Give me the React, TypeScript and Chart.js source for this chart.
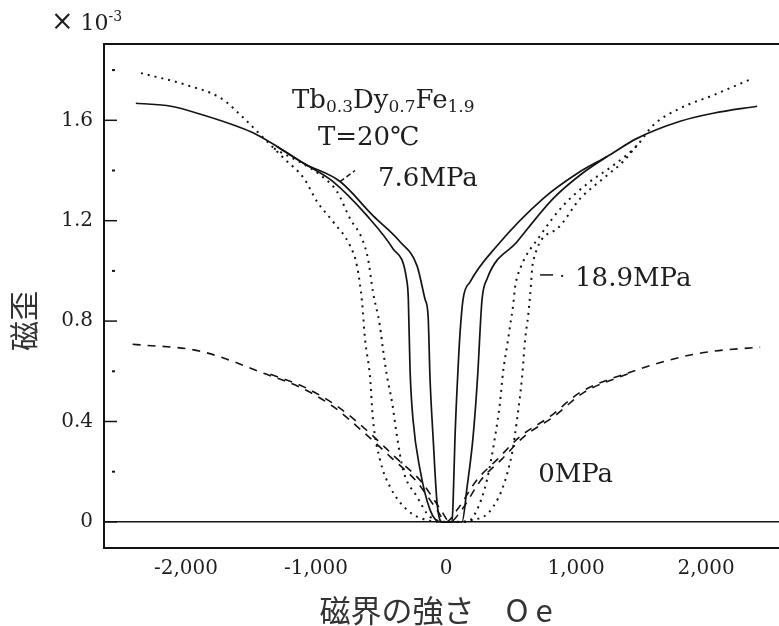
import React, { useEffect, useRef } from 'react';
import { Chart, registerables } from 'chart.js';

Chart.register(...registerables);

// ---- axis ticks ----
const xTickValues = [-2000, -1000, 0, 1000, 2000];
const yTickValues = [0, 0.2, 0.4, 0.6, 0.8, 1.0, 1.2, 1.4, 1.6, 1.8];
const yLabeledValues = [0, 0.4, 0.8, 1.2, 1.6];

// ---- 7.6 MPa (solid), two sweep branches ----
const field76A = [-2385, -2115, -1862, -1608, -1477, -1300, -1092, -869, -608, -408, -300, -290, -277, -254, -200, -123, -46, 46, 54, 69, 92, 108, 131, 185, 392, 746, 1008, 1238, 1469, 1800, 2054, 2392];
const strain76A = [1.668, 1.656, 1.62, 1.576, 1.548, 1.496, 1.428, 1.356, 1.22, 1.088, 0.956, 0.888, 0.608, 0.408, 0.208, 0.048, 0.0, 0.0, 0.076, 0.34, 0.608, 0.756, 0.888, 0.956, 1.10, 1.288, 1.388, 1.456, 1.528, 1.596, 1.628, 1.656];
const field76B = [-1300, -1092, -815, -562, -354, -223, -162, -138, -123, -100, -69, -31, 123, 162, 208, 246, 262, 277, 315, 546, 823, 1046, 1238];
const strain76B = [1.496, 1.428, 1.356, 1.22, 1.116, 1.02, 0.888, 0.82, 0.568, 0.34, 0.076, 0.0, 0.0, 0.14, 0.34, 0.608, 0.768, 0.888, 0.968, 1.116, 1.288, 1.388, 1.456];

// ---- 18.9 MPa (dotted), two sweep branches ----
const field189A = [-2346, -1992, -1731, -1554, -1423, -1323, -1246, -1092, -992, -869, -738, -685, -646, -623, -585, -562, -508, -431, -300, -200, -46, 162, 238, 315, 377, 415, 438, 469, 492, 515, 531, 569, 723, 900, 1108, 1285, 1469, 1592, 1800, 2054, 2362];
const strain189A = [1.788, 1.74, 1.688, 1.608, 1.54, 1.488, 1.448, 1.368, 1.276, 1.196, 1.10, 1.02, 0.876, 0.728, 0.58, 0.408, 0.248, 0.14, 0.048, 0.016, 0.0, 0.0, 0.048, 0.168, 0.34, 0.476, 0.596, 0.70, 0.78, 0.86, 0.936, 1.008, 1.14, 1.26, 1.356, 1.42, 1.50, 1.58, 1.648, 1.70, 1.768];
const field189B = [-1323, -962, -838, -738, -646, -600, -562, -508, -485, -454, -415, -377, -331, -223, -123, 31, 285, 362, 438, 508, 546, 585, 608, 631, 646, 669, 854, 1031, 1208, 1362, 1492];
const strain189B = [1.488, 1.38, 1.316, 1.208, 1.128, 1.048, 0.916, 0.78, 0.688, 0.58, 0.476, 0.34, 0.208, 0.10, 0.02, 0.0, 0.02, 0.06, 0.14, 0.276, 0.408, 0.58, 0.728, 0.82, 0.90, 1.036, 1.168, 1.288, 1.368, 1.436, 1.516];

// ---- 0 MPa (dashed), two sweep branches ----
const field0A = [-2410, -1890, -1380, -1120, -870, -640, -430, -225, -70, 0, 85, 238, 392, 569, 800, 1031, 1415, 1800, 2054, 2415];
const strain0A = [0.708, 0.68, 0.588, 0.536, 0.46, 0.36, 0.26, 0.16, 0.048, 0.0, 0.048, 0.168, 0.248, 0.34, 0.42, 0.516, 0.596, 0.656, 0.68, 0.696];
const field0B = [-1350, -1085, -835, -600, -395, -190, -40, 30, 120, 270, 425, 600, 830, 1060, 1430];
const strain0B = [0.588, 0.536, 0.46, 0.36, 0.26, 0.16, 0.048, 0.0, 0.048, 0.168, 0.248, 0.34, 0.42, 0.516, 0.596];

const seriesNames = ['7.6MPa', '18.9MPa', '0MPa'];

const INK = '#141414';
const SERIF = '"DejaVu Serif", "Liberation Serif", serif';
const CJK = '"Noto Sans CJK JP", "Noto Sans CJK SC", sans-serif';

const pts = (xs: number[], ys: number[]) => xs.map((x, i) => ({ x, y: ys[i] }));
const isLabeled = (v: number) => yLabeledValues.some((t) => Math.abs(t - v) < 1e-9);

function drawRich(ctx: CanvasRenderingContext2D, x: number, y: number, parts: [string, number, number][]) {
  let cx = x;
  ctx.textBaseline = 'alphabetic';
  ctx.textAlign = 'left';
  for (const [t, size, dy] of parts) {
    ctx.font = `${size}px ${SERIF}`;
    ctx.fillText(t, cx, y + dy);
    cx += ctx.measureText(t).width;
  }
}

const decorPlugin = {
  id: 'decor',
  afterDraw(chart: any) {
    const { ctx, chartArea: ca } = chart;
    const xs = chart.scales.x;
    const ys = chart.scales.y;
    const px = (v: number) => xs.getPixelForValue(v);
    const py = (v: number) => ys.getPixelForValue(v);
    ctx.save();
    ctx.strokeStyle = INK;
    ctx.fillStyle = INK;
    // top frame line
    ctx.lineWidth = 2;
    ctx.beginPath();
    ctx.moveTo(ca.left - 1, ca.top);
    ctx.lineTo(ca.right, ca.top);
    ctx.stroke();
    // inward y tick marks
    for (const v of yTickValues) {
      const yy = py(v);
      ctx.beginPath();
      if (isLabeled(v)) {
        ctx.lineWidth = 1.5;
        ctx.moveTo(ca.left, yy);
        ctx.lineTo(ca.left + 13, yy);
      } else {
        ctx.lineWidth = 2;
        ctx.moveTo(ca.left + 8, yy);
        ctx.lineTo(ca.left + 11, yy);
      }
      ctx.stroke();
    }
    // multiplier
    ctx.fillStyle = '#1e1e1e';
    drawRich(ctx, ca.left - 53, 30, [['×', 27, 0], [' 10', 22, 0], ['-3', 14, -9]]);
    // annotations
    drawRich(ctx, px(-1185), py(1.648), [['Tb', 26, 0], ['0.3', 17, 4], ['Dy', 26, 0], ['0.7', 17, 4], ['Fe', 26, 0], ['1.9', 17, 4]]);
    drawRich(ctx, px(-985), py(1.5), [['T=20℃', 26, 0]]);
    drawRich(ctx, px(-523), py(1.34), [[seriesNames[0], 26, 0]]);
    drawRich(ctx, px(992), py(0.94), [[seriesNames[1], 26, 0]]);
    drawRich(ctx, px(708), py(0.16), [[seriesNames[2], 26, 0]]);
    // leaders
    ctx.lineWidth = 1.5;
    ctx.setLineDash([5, 3]);
    ctx.beginPath();
    ctx.moveTo(px(-815), py(1.356));
    ctx.lineTo(px(-700), py(1.40));
    ctx.stroke();
    ctx.setLineDash([]);
    ctx.beginPath();
    ctx.moveTo(px(723), py(0.984));
    ctx.lineTo(px(823), py(0.984));
    ctx.stroke();
    ctx.fillRect(px(885), py(0.98) - 1, 2, 2);
    // axis titles
    ctx.fillStyle = '#333';
    ctx.font = `30px ${CJK}`;
    ctx.textAlign = 'center';
    ctx.textBaseline = 'middle';
    ctx.save();
    ctx.translate(24, 321);
    ctx.rotate(-Math.PI / 2);
    ctx.fillText('磁歪', 0, 0);
    ctx.restore();
    ctx.font = `31px ${CJK}`;
    ctx.fillText('磁界の強さ　O e', 436, 610);
    ctx.restore();
  },
};

export default function App() {
  const ref = useRef<HTMLCanvasElement | null>(null);
  useEffect(() => {
    document.body.style.margin = '0';
    document.body.style.overflow = 'hidden';
    const canvas = ref.current;
    if (!canvas) return;
    const line = (label: string, data: any, dash: number[], width: number) => ({
      label,
      data,
      borderColor: INK,
      backgroundColor: INK,
      borderWidth: width,
      borderDash: dash,
      pointRadius: 0,
      fill: false,
      cubicInterpolationMode: 'monotone' as const,
    });
    const chart = new Chart(canvas, {
      type: 'line',
      data: {
        datasets: [
          line(seriesNames[0], pts(field76A, strain76A), [], 1.7),
          line(seriesNames[0], pts(field76B, strain76B), [], 1.7),
          line(seriesNames[1], pts(field189A, strain189A), [2, 5], 2),
          line(seriesNames[1], pts(field189B, strain189B), [2, 5], 2),
          line(seriesNames[2], pts(field0A, strain0A), [8, 7], 1.6),
          line(seriesNames[2], pts(field0B, strain0B), [8, 7], 1.6),
        ],
      },
      options: {
        responsive: false,
        animation: false,
        layout: { padding: { top: 44, left: 0, right: 0, bottom: 0 } },
        plugins: {
          legend: { display: false },
          tooltip: { enabled: false },
          title: { display: false },
        },
        scales: {
          x: {
            type: 'linear',
            min: -2630,
            max: 2560,
            afterFit: (s: any) => {
              s.height = 78;
            },
            afterBuildTicks: (s: any) => {
              s.ticks = xTickValues.map((v) => ({ value: v }));
            },
            ticks: {
              autoSkip: false,
              maxRotation: 0,
              padding: 9,
              color: '#1e1e1e',
              font: { family: SERIF, size: 20 },
              callback: (v: any) => Number(v).toLocaleString('en-US'),
            },
            grid: { display: false, drawTicks: false },
            border: { display: true, color: INK, width: 2 },
          },
          y: {
            type: 'linear',
            min: -0.104,
            max: 1.904,
            afterFit: (s: any) => {
              s.width = 104;
            },
            afterBuildTicks: (s: any) => {
              s.ticks = yTickValues.map((v) => ({ value: v }));
            },
            ticks: {
              autoSkip: false,
              padding: 11,
              color: '#1e1e1e',
              font: { family: SERIF, size: 20 },
              callback: (v: any) => (isLabeled(Number(v)) ? (Number(v) === 0 ? '0' : Number(v).toFixed(1)) : ''),
            },
            grid: {
              drawTicks: false,
              lineWidth: 1.6,
              color: (c: any) => (c.tick && Math.abs(c.tick.value) < 1e-9 ? INK : 'rgba(0,0,0,0)'),
            },
            border: { display: true, color: INK, width: 2 },
          },
        },
      },
      plugins: [decorPlugin],
    } as any);
    return () => chart.destroy();
  }, []);
  return (
    <div style={{ width: 779, height: 626, background: '#fff' }}>
      <canvas ref={ref} width={779} height={626} style={{ display: 'block' }} />
    </div>
  );
}
